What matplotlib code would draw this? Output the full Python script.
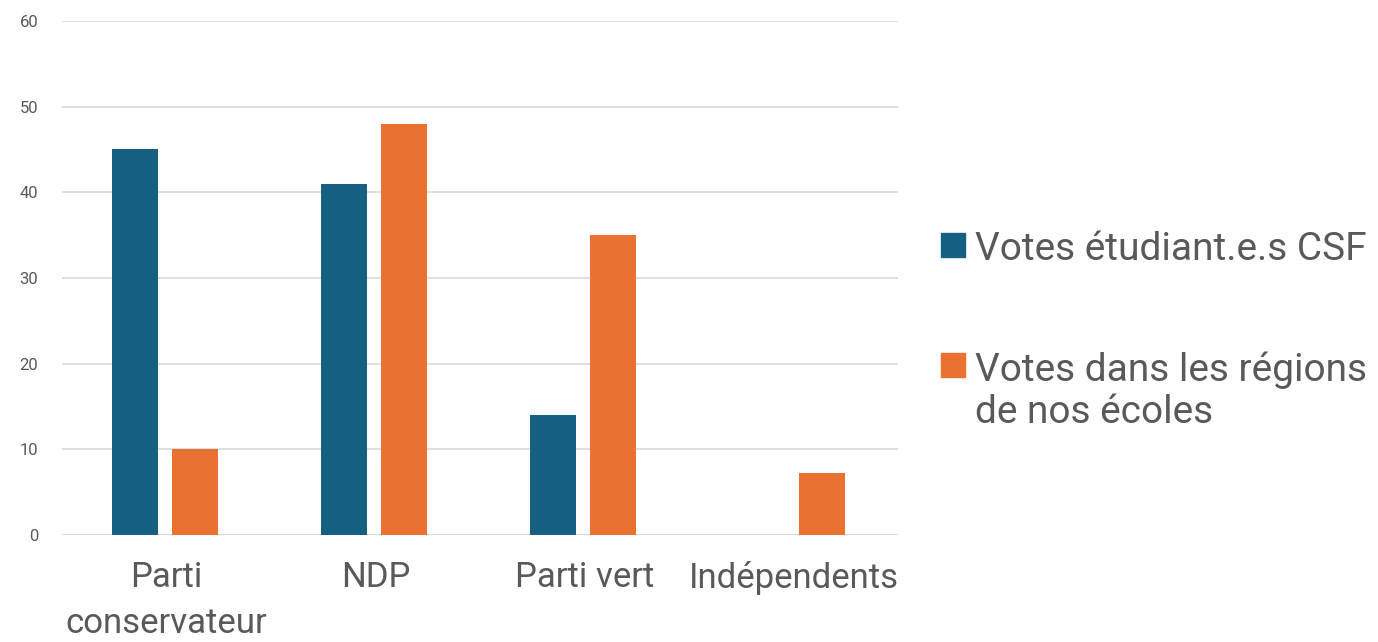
import matplotlib.pyplot as plt
import numpy as np
from matplotlib.patches import Rectangle

plt.rcParams["font.family"] = ["Roboto", "DejaVu Sans"]

categories = ["Parti\nconservateur", "NDP", "Parti vert", "Indépendents"]
series_names = ["Votes étudiant.e.s CSF", "Votes dans les régions\nde nos écoles"]
votes_csf = [45, 41, 14, 0]
votes_regions = [10, 48, 35, 7.2]

blue = "#156082"
orange = "#E97132"
text_grey = "#595959"

fig = plt.figure(figsize=(13.78, 6.42), dpi=100)
ax = fig.add_axes([0.045, 0.1667, 0.6067, 0.8006])

x = np.arange(len(categories))
bar_w = 0.22
ax.bar(x - 0.15, votes_csf, width=bar_w, color=blue, zorder=3)
ax.bar(x + 0.135, votes_regions, width=bar_w, color=orange, zorder=3)

ax.set_xlim(-0.5, len(categories) - 0.5)
ax.set_ylim(0, 60)
ax.set_yticks(np.arange(0, 61, 10))
ax.grid(axis="y", color="#D9D9D9", linewidth=1.2, zorder=0)
for s in ["top", "right", "left", "bottom"]:
    ax.spines[s].set_visible(False)
ax.axhline(0, color="#D9D9D9", linewidth=1.5, zorder=2)

ax.set_xticks(x)
ax.set_xticklabels(categories, fontsize=25, color=text_grey, linespacing=1.5)
ax.tick_params(axis="x", length=0, pad=19)
ax.tick_params(axis="y", length=0, pad=17, labelsize=12, labelcolor=text_grey)

# legend drawn by hand so the marker lines up with the first text line
colors = [blue, orange]
legend_y = [0.618, 0.431]
for name, col, ly in zip(series_names, colors, legend_y):
    fig.patches.append(Rectangle((941 / 1378, ly - 0.018), 24 / 1378, 24 / 642,
                                 transform=fig.transFigure, color=col))
    fig.text(975 / 1378, ly + 0.022, name, fontsize=28, color=text_grey,
             va="top", ha="left", linespacing=1.2)

fig.savefig("out.png", dpi=100)
